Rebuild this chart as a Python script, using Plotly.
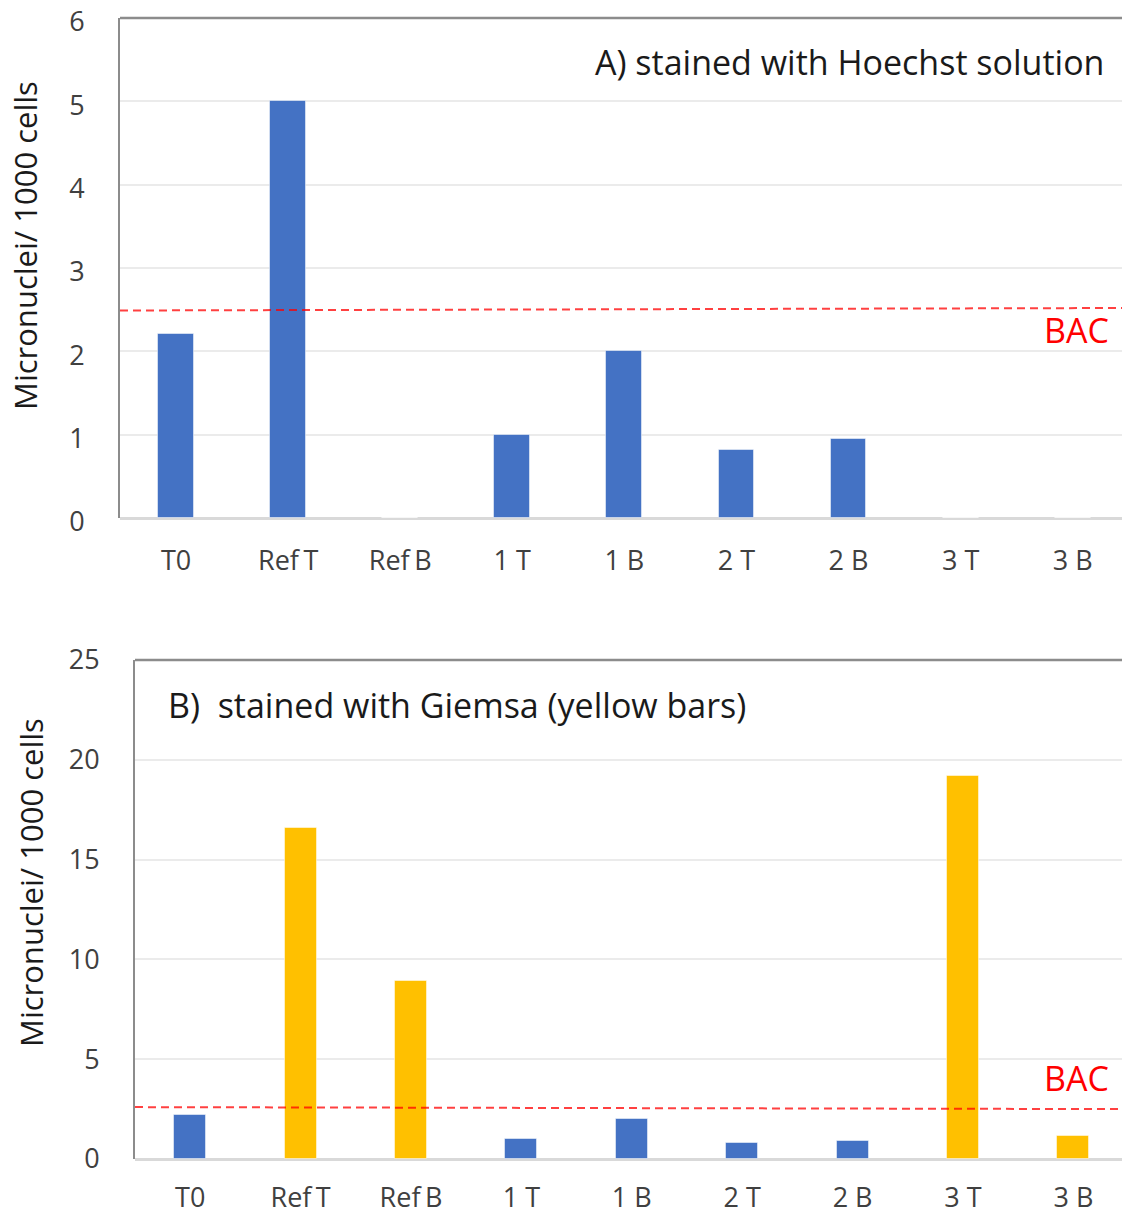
import plotly.graph_objects as go

categories = ["T0", "Ref\u2009T", "Ref\u2009B", "1 T", "1 B", "2 T", "2 B", "3 T", "3 B"]

# Panel A (Hoechst)
hoechst_values = [2.21, 5.0, 0, 1.0, 2.0, 0.82, 0.95, 0, 0]
# Panel B (Giemsa, yellow) values and which bars are yellow
giemsa_values = [2.2, 16.6, 8.9, 1.0, 2.0, 0.82, 0.9, 19.2, 1.15]
giemsa_is_yellow = [False, True, True, False, False, False, False, True, True]

bac_top = (2.49, 2.52)     # BAC line start/end in panel A
bac_bottom = (2.6, 2.5)    # BAC line start/end in panel B

yticks_top = [0, 1, 2, 3, 4, 5, 6]
yticks_bottom = [0, 5, 10, 15, 20, 25]

BLUE = "#4472C4"
YELLOW = "#FFC000"
FONT = "Open Sans"
W, H = 1122, 1216

def px_x(p):
    return p / W

def px_y(p):
    return 1 - p / H

fig = go.Figure()

fig.add_trace(go.Bar(
    x=categories, y=hoechst_values, xaxis="x", yaxis="y",
    marker=dict(color=BLUE, line=dict(color="rgba(255,255,255,0.5)", width=1)),
    width=0.32, showlegend=False,
))

fig.add_trace(go.Bar(
    x=categories, y=giemsa_values, xaxis="x2", yaxis="y2",
    marker=dict(color=[YELLOW if f else BLUE for f in giemsa_is_yellow],
                line=dict(color="rgba(255,255,255,0.5)", width=1)),
    width=0.29, showlegend=False,
))

tickfont = dict(family=FONT, size=27, color="#404040")

common_x = dict(type="category", showgrid=False, showline=False, zeroline=False,
                ticks="", tickfont=tickfont, automargin=False,
                ticklabeloverflow="allow",
                range=[-0.5, 8.44], fixedrange=True)
common_y = dict(showgrid=True, gridcolor="#EBEBEB", gridwidth=2,
                zeroline=True, zerolinecolor="#D9D9D9", zerolinewidth=3,
                showline=True, linecolor="#8C8C8C", linewidth=2, automargin=False,
                ticklabeloverflow="allow",
                ticks="", tickfont=tickfont, ticklabelstandoff=28)

fig.update_layout(
    width=W, height=H,
    margin=dict(l=0, r=0, t=0, b=0),
    paper_bgcolor="white", plot_bgcolor="white",
    bargap=0,
    xaxis=dict(domain=[px_x(120), 1], anchor="y", ticklabelstandoff=24, **common_x),
    yaxis=dict(domain=[px_y(518), px_y(18)], anchor="x", range=[0, 6],
               tickvals=yticks_top, ticklabelshift=4, **common_y),
    xaxis2=dict(domain=[px_x(135), 1], anchor="y2", ticklabelstandoff=20, **common_x),
    yaxis2=dict(domain=[px_y(1159), px_y(660)], anchor="x2", range=[0, 25],
                tickvals=yticks_bottom, **common_y),
)

# top border lines
for xr, yr in [("x domain", "y domain"), ("x2 domain", "y2 domain")]:
    fig.add_shape(type="line", xref=xr, yref=yr, x0=0, x1=1, y0=1, y1=1,
                  line=dict(color="#8C8C8C", width=2.5), layer="above")

# BAC lines
bac_line = dict(color="rgba(255,0,0,0.75)", width=2, dash="8px,5px")
fig.add_shape(type="line", xref="x domain", yref="y", x0=0, x1=1,
              y0=bac_top[0], y1=bac_top[1], line=bac_line, layer="above")
fig.add_shape(type="line", xref="x2 domain", yref="y2", x0=0, x1=1,
              y0=bac_bottom[0], y1=bac_bottom[1], line=bac_line, layer="above")

# BAC labels
for ypix in (330, 1078):
    fig.add_annotation(xref="paper", yref="paper", x=px_x(1111), y=px_y(ypix),
                       xanchor="right", yanchor="middle", text="BAC", showarrow=False,
                       font=dict(family=FONT, size=34, color="#FF0000"))

# panel titles
fig.add_annotation(xref="paper", yref="paper", x=px_x(1106), y=px_y(62),
                   xanchor="right", yanchor="middle",
                   text="A) stained with Hoechst solution", showarrow=False,
                   font=dict(family=FONT, size=34, color="#1A1A1A"))
fig.add_annotation(xref="paper", yref="paper", x=px_x(166), y=px_y(705),
                   xanchor="left", yanchor="middle",
                   text="B)\u00a0 stained with Giemsa (yellow bars)", showarrow=False,
                   font=dict(family=FONT, size=34, color="#1A1A1A"))

# y-axis titles
fig.add_annotation(xref="paper", yref="paper", x=px_x(25), y=px_y(246),
                   xanchor="center", yanchor="middle", textangle=-90,
                   text="Micronuclei/ 1000 cells", showarrow=False,
                   font=dict(family=FONT, size=31, color="#1A1A1A"))
fig.add_annotation(xref="paper", yref="paper", x=px_x(31), y=px_y(883),
                   xanchor="center", yanchor="middle", textangle=-90,
                   text="Micronuclei/ 1000 cells", showarrow=False,
                   font=dict(family=FONT, size=31, color="#1A1A1A"))

fig.write_html("out.html")
